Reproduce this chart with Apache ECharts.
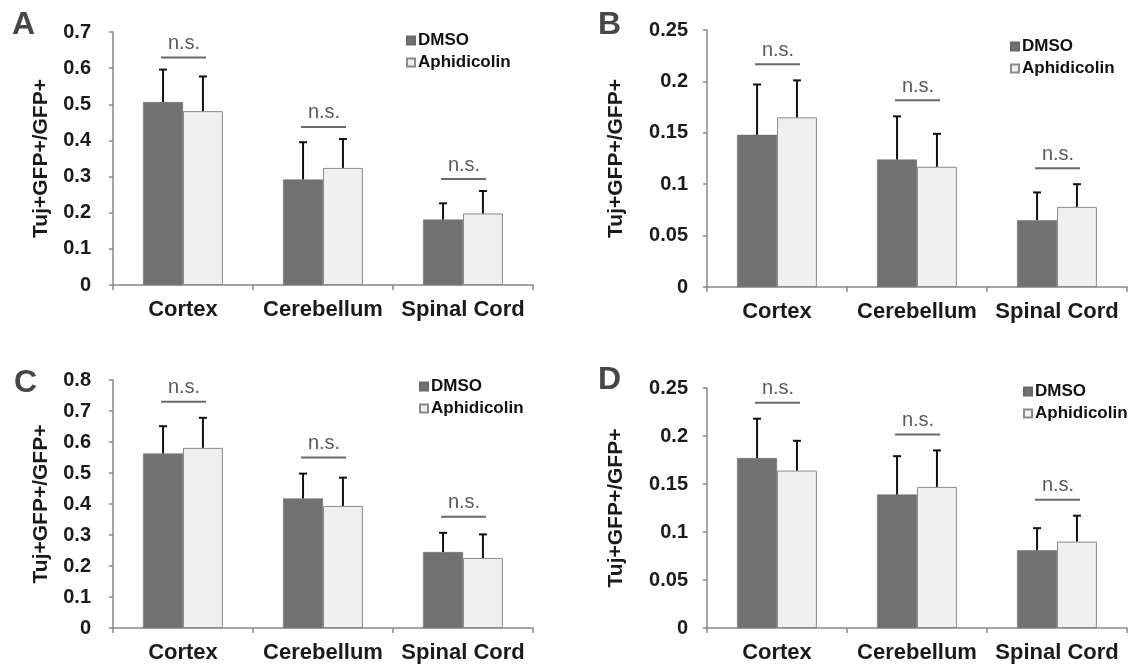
<!DOCTYPE html>
<html><head><meta charset="utf-8">
<script src="https://cdn.jsdelivr.net/npm/echarts@6/dist/echarts.min.js"></script>
<style>html,body{margin:0;padding:0;background:#fff}#c{width:1130px;height:668px}</style>
</head><body><div id="c"></div>
<script>
const categories = ['Cortex', 'Cerebellum', 'Spinal Cord'];
const seriesNames = ['DMSO', 'Aphidicolin'];
const yTicksA = { max: 0.7, interval: 0.1 };
const yTicksB = { max: 0.25, interval: 0.05 };
const yTicksC = { max: 0.8, interval: 0.1 };
const yTicksD = { max: 0.25, interval: 0.05 };

const A_dmso = [0.506, 0.292, 0.181];
const A_dmsoErr = [0.090, 0.103, 0.045];
const A_aph = [0.481, 0.324, 0.198];
const A_aphErr = [0.096, 0.080, 0.062];

const B_dmso = [0.148, 0.124, 0.065];
const B_dmsoErr = [0.049, 0.042, 0.027];
const B_aph = [0.165, 0.117, 0.078];
const B_aphErr = [0.036, 0.032, 0.022];

const C_dmso = [0.563, 0.418, 0.245];
const C_dmsoErr = [0.088, 0.080, 0.062];
const C_aph = [0.581, 0.394, 0.226];
const C_aphErr = [0.097, 0.091, 0.076];

const D_dmso = [0.177, 0.139, 0.081];
const D_dmsoErr = [0.041, 0.040, 0.023];
const D_aph = [0.164, 0.147, 0.090];
const D_aphErr = [0.031, 0.038, 0.027];

const panels = [
  { letter: 'A', dmso: A_dmso, dmsoErr: A_dmsoErr, aph: A_aph, aphErr: A_aphErr, y: yTicksA,
    grid: { left: 113, top: 32, width: 420, height: 253 }, nameGap: 61, labelMargin: 22, nsOff: 12,
    legend: { left: 406, top: 32 }, letterPos: { left: 12, top: 9 } },
  { letter: 'B', dmso: B_dmso, dmsoErr: B_dmsoErr, aph: B_aph, aphErr: B_aphErr, y: yTicksB,
    grid: { left: 707, top: 30, width: 420, height: 257 }, nameGap: 80, labelMargin: 19, nsOff: 16,
    legend: { left: 1010, top: 38 }, letterPos: { left: 598, top: 9 } },
  { letter: 'C', dmso: C_dmso, dmsoErr: C_dmsoErr, aph: C_aph, aphErr: C_aphErr, y: yTicksC,
    grid: { left: 113, top: 380, width: 420, height: 248 }, nameGap: 61, labelMargin: 22, nsOff: 16,
    legend: { left: 419, top: 378 }, letterPos: { left: 14, top: 367 } },
  { letter: 'D', dmso: D_dmso, dmsoErr: D_dmsoErr, aph: D_aph, aphErr: D_aphErr, y: yTicksD,
    grid: { left: 707, top: 388, width: 420, height: 240 }, nameGap: 80, labelMargin: 19, nsOff: 16,
    legend: { left: 1023, top: 383 }, letterPos: { left: 598, top: 364 } }
];

const GAP = 0.43;
const FONT = '"Liberation Sans", Arial, sans-serif';
const DMSO_COLOR = '#717171';
const APH_COLOR = '#f0f0f0';

const option = { animation: false, backgroundColor: '#fff',
  title: [], grid: [], xAxis: [], yAxis: [], legend: [], series: [] };

panels.forEach((p, gi) => {
  option.title.push({ text: p.letter, left: p.letterPos.left, top: p.letterPos.top, padding: 0,
    textStyle: { fontFamily: FONT, fontSize: 32, fontWeight: 'bold', color: '#474747' } });
  option.grid.push(Object.assign({ containLabel: false }, p.grid));
  option.xAxis.push({ type: 'category', gridIndex: gi, data: categories,
    axisLine: { lineStyle: { color: '#888', width: 1.5 } },
    axisTick: { show: true, length: 5, lineStyle: { color: '#888', width: 1.5 } },
    axisLabel: { fontFamily: FONT, fontSize: 22, fontWeight: 'bold', color: '#1a1a1a', margin: 14, interval: 0 } });
  option.yAxis.push({ type: 'value', gridIndex: gi, min: 0, max: p.y.max, interval: p.y.interval,
    name: 'Tuj+GFP+/GFP+', nameLocation: 'middle', nameGap: p.nameGap, nameRotate: 90,
    nameTextStyle: { fontFamily: FONT, fontSize: 21, fontWeight: 'bold', color: '#1a1a1a' },
    axisLine: { show: true, lineStyle: { color: '#888', width: 1.5 } },
    axisTick: { show: true, length: 4, lineStyle: { color: '#888', width: 1.5 } },
    splitLine: { show: false },
    axisLabel: { fontFamily: FONT, fontSize: 20, fontWeight: 'bold', color: '#1a1a1a', margin: p.labelMargin } });
  option.legend.push({ left: p.legend.left, top: p.legend.top, orient: 'vertical', padding: 0,
    itemWidth: 8, itemHeight: 8, itemGap: 5, icon: 'rect', data: seriesNames,
    textStyle: { fontFamily: FONT, fontSize: 17, fontWeight: 'bold', color: '#111', padding: [0, 0, 0, -2] } });

  option.series.push({ name: 'DMSO', type: 'bar', xAxisIndex: gi, yAxisIndex: gi, data: p.dmso,
    barGap: '0%', barCategoryGap: (GAP * 100) + '%',
    itemStyle: { color: DMSO_COLOR, borderColor: '#6a6a6a', borderWidth: 0.5 } });
  option.series.push({ name: 'Aphidicolin', type: 'bar', xAxisIndex: gi, yAxisIndex: gi, data: p.aph,
    barGap: '0%', barCategoryGap: (GAP * 100) + '%',
    itemStyle: { color: APH_COLOR, borderColor: '#8a8a8a', borderWidth: 1 } });

  // error bars
  const errData = [];
  categories.forEach((c, i) => {
    errData.push([i, p.dmso[i], p.dmsoErr[i], -1]);
    errData.push([i, p.aph[i], p.aphErr[i], 1]);
  });
  option.series.push({ type: 'custom', xAxisIndex: gi, yAxisIndex: gi, data: errData, z: 5,
    encode: { x: 0, y: 1 }, silent: true,
    renderItem: function (params, api) {
      const band = api.size([1, 0])[0];
      const bw = band * (1 - GAP) / 2;
      const side = api.value(3);
      const base = api.coord([api.value(0), api.value(1)]);
      const top = api.coord([api.value(0), api.value(1) + api.value(2)]);
      const x = base[0] + side * bw / 2;
      const st = { stroke: '#111', lineWidth: 2 };
      return { type: 'group', children: [
        { type: 'line', shape: { x1: x, y1: base[1], x2: x, y2: top[1] }, style: st },
        { type: 'line', shape: { x1: x - 4, y1: top[1], x2: x + 4, y2: top[1] }, style: st }
      ] };
    } });

  // n.s. annotations
  const nsData = categories.map((c, i) => [i, Math.max(p.dmso[i] + p.dmsoErr[i], p.aph[i] + p.aphErr[i])]);
  option.series.push({ type: 'custom', xAxisIndex: gi, yAxisIndex: gi, data: nsData, z: 6,
    encode: { x: 0, y: 1 }, silent: true,
    renderItem: function (params, api) {
      const pt = api.coord([api.value(0), api.value(1)]);
      const y = pt[1] - p.nsOff;
      return { type: 'group', children: [
        { type: 'line', shape: { x1: pt[0] - 22, y1: y, x2: pt[0] + 23, y2: y },
          style: { stroke: '#6a6a6a', lineWidth: 2 } },
        { type: 'text', x: pt[0] + 1, y: y - 4,
          style: { text: 'n.s.', fill: '#5a5a5a', font: '20px ' + FONT, textAlign: 'center', textVerticalAlign: 'bottom' } }
      ] };
    } });
});

const chart = echarts.init(document.getElementById('c'), null, { renderer: 'canvas' });
chart.setOption(option);
</script></body></html>
